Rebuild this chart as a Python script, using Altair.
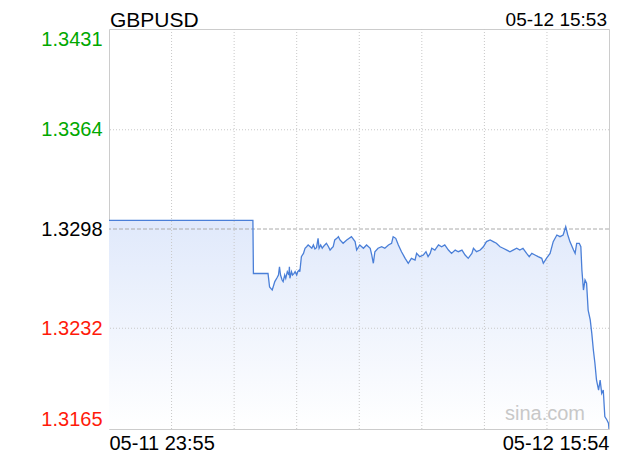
import altair as alt
import pandas as pd

# ---- data ----
minutes = [
    0, 276, 277, 305, 308, 313, 315, 318, 322, 325,
    327, 329, 332, 334, 337, 339, 342, 345, 346, 347,
    350, 352, 355, 357, 360, 362, 365, 366, 369, 373,
    376, 379, 382, 386, 389, 392, 395, 398, 401, 403,
    406, 409, 411, 414, 417, 421, 424, 427, 430, 433,
    437, 440, 443, 449, 456, 465, 472, 475, 481, 488,
    494, 501, 504, 507, 510, 516, 523, 529, 536, 542,
    545, 550, 555, 561, 568, 574, 580, 587, 590, 596,
    603, 608, 612, 616, 619, 625, 632, 638, 644, 651,
    657, 664, 670, 677, 683, 689, 696, 699, 705, 712,
    718, 724, 731, 737, 743, 750, 756, 763, 769, 775,
    782, 788, 794, 801, 806, 811, 817, 823, 830, 833,
    839, 846, 852, 859, 865, 871, 876, 880, 884, 891,
    894, 897, 902, 905, 907, 910, 913, 916, 919, 923,
    926, 929, 932, 935, 939, 942, 945, 948, 951, 955,
    958, 959,
]
prices = [
    1.33037, 1.33037, 1.32684, 1.32684, 1.32594, 1.32574, 1.32596, 1.32630, 1.32654, 1.32674,
    1.32729, 1.32674, 1.32641, 1.32630, 1.32674, 1.32652, 1.32696, 1.32674, 1.32729, 1.32652,
    1.32696, 1.32674, 1.32685, 1.32696, 1.32674, 1.32696, 1.32707, 1.32696, 1.32796, 1.32818,
    1.32852, 1.32862, 1.32874, 1.32862, 1.32852, 1.32874, 1.32847, 1.32856, 1.32918, 1.32852,
    1.32874, 1.32852, 1.32862, 1.32874, 1.32885, 1.32862, 1.32840, 1.32852, 1.32862, 1.32907,
    1.32918, 1.32929, 1.32907, 1.32885, 1.32907, 1.32929, 1.32896, 1.32840, 1.32874, 1.32852,
    1.32874, 1.32852, 1.32807, 1.32752, 1.32829, 1.32852, 1.32862, 1.32852, 1.32874, 1.32885,
    1.32929, 1.32918, 1.32874, 1.32829, 1.32785, 1.32752, 1.32785, 1.32774, 1.32818, 1.32796,
    1.32807, 1.32829, 1.32796, 1.32818, 1.32852, 1.32840, 1.32874, 1.32862, 1.32874, 1.32840,
    1.32818, 1.32840, 1.32829, 1.32840, 1.32807, 1.32785, 1.32818, 1.32852, 1.32829, 1.32840,
    1.32862, 1.32896, 1.32907, 1.32896, 1.32885, 1.32862, 1.32852, 1.32840, 1.32829, 1.32840,
    1.32852, 1.32840, 1.32852, 1.32818, 1.32796, 1.32818, 1.32807, 1.32796, 1.32785, 1.32752,
    1.32785, 1.32818, 1.32896, 1.32940, 1.32929, 1.32940, 1.32995, 1.32940, 1.32896, 1.32840,
    1.32818, 1.32885, 1.32885, 1.32862, 1.32707, 1.32574, 1.32641, 1.32619, 1.32441, 1.32375,
    1.32286, 1.32175, 1.32087, 1.31976, 1.31909, 1.31976, 1.31887, 1.31909, 1.31732, 1.31710,
    1.31688, 1.31650,
]
y_ticks = [1.3165, 1.3232, 1.3298, 1.3364, 1.3431]
prev_close = [1.3298]
grid_levels = [1.3232, 1.3364]
x_grid = [120, 240, 360, 480, 600, 720, 840]
x_label_values = [0, 959]
x_labels = ["05-11 23:55", "05-12 15:54"]
title_text = ["GBPUSD"]
stamp_text = ["05-12 15:53"]
watermark = ["sina.com"]

FONT = "Liberation Sans"
GREEN = "#00a800"
RED = "#ff1a0a"
LINE = "#4a7fd8"

df = pd.DataFrame({"t": minutes, "p": prices})

x_scale = alt.Scale(domain=[x_label_values[0], x_label_values[1]], nice=False, zero=False)
y_scale = alt.Scale(domain=[y_ticks[0], y_ticks[-1]], nice=False, zero=False)

x_axis = alt.Axis(
    values=x_label_values,
    labelExpr=f"datum.value == {x_label_values[0]} ? '{x_labels[0]}' : '{x_labels[1]}'",
    labelFlush=True, labelFontSize=20, labelPadding=4, labelColor="#000000",
    grid=False, ticks=False, domain=False, title=None, labelOverlap=False,
)
y_axis = alt.Axis(
    values=y_ticks, format=".4f", labelFlush=True, labelFontSize=20, labelPadding=7,
    labelColor={
        "condition": [
            {"test": f"datum.value > {prev_close[0] + 0.00001}", "value": GREEN},
            {"test": f"datum.value < {prev_close[0] - 0.00001}", "value": RED},
        ],
        "value": "#000000",
    },
    grid=False, ticks=False, domain=False, title=None, labelOverlap=False,
)

X = alt.X("t:Q", scale=x_scale, axis=x_axis)
Y = alt.Y("p:Q", scale=y_scale, axis=y_axis)

area = alt.Chart(df).mark_area(
    color=alt.Gradient(
        gradient="linear",
        stops=[alt.GradientStop(color="#e0e9fb", offset=0),
               alt.GradientStop(color="#ffffff", offset=1)],
        x1=1, x2=1, y1=0, y2=1,
    ),
    clip=True,
).encode(x=X, y=Y, y2=alt.datum(y_ticks[0]))

vgrid = alt.Chart(pd.DataFrame({"t": x_grid})).mark_rule(
    color="#c8c8c8", strokeDash=[1, 2], strokeWidth=1
).encode(x=X)

hgrid = alt.Chart(pd.DataFrame({"p": grid_levels})).mark_rule(
    color="#c8c8c8", strokeDash=[1, 2], strokeWidth=1
).encode(y=Y)

prev_rule = alt.Chart(pd.DataFrame({"p": prev_close})).mark_rule(
    color="#aaaaaa", strokeDash=[4, 2], strokeWidth=1
).encode(y=Y)

line = alt.Chart(df).mark_line(color=LINE, strokeWidth=1.3, clip=True).encode(x=X, y=Y)

title_mark = alt.Chart(pd.DataFrame({"s": title_text})).mark_text(
    align="left", baseline="alphabetic", fontSize=21, font=FONT, color="#000000"
).encode(x=alt.value(1), y=alt.value(-2), text="s:N")

stamp_mark = alt.Chart(pd.DataFrame({"s": stamp_text})).mark_text(
    align="right", baseline="alphabetic", fontSize=19, font=FONT, color="#000000"
).encode(x=alt.value(498), y=alt.value(-3), text="s:N")

wm_mark = alt.Chart(pd.DataFrame({"s": watermark})).mark_text(
    align="right", baseline="alphabetic", fontSize=20, font=FONT, color="#c8c8c8"
).encode(x=alt.value(476), y=alt.value(391), text="s:N")

chart = alt.layer(
    area, vgrid, hgrid, prev_rule, wm_mark, line, title_mark, stamp_mark
).properties(
    width=500, height=400,
    autosize=alt.AutoSizeParams(type="none"),
    padding={"left": 101, "top": 21, "right": 3, "bottom": 23},
).configure_view(
    stroke="#cccccc", strokeWidth=1
).configure_axis(
    labelFont=FONT
)

chart.save("out.html", embed_options={"renderer": "svg", "actions": False})
